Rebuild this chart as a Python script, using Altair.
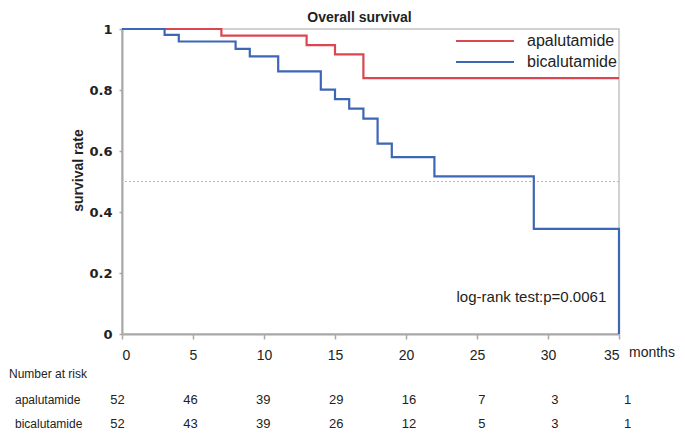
import altair as alt
import pandas as pd

# ---- data ----
series = ["apalutamide", "bicalutamide"]
colors = ["#dc4650", "#3d66b5"]

months_apa = [0, 7, 13, 15, 17, 35]
surv_apa = [1.0, 0.978, 0.947, 0.917, 0.839, 0.839]

months_bica = [0, 3, 4, 8, 9, 11, 14, 15, 16, 17, 18, 19, 22, 29, 35]
surv_bica = [1.0, 0.981, 0.959, 0.935, 0.910, 0.861, 0.801, 0.770, 0.739,
             0.706, 0.624, 0.580, 0.517, 0.345, 0.0]

x_ticks = [0, 5, 10, 15, 20, 25, 30, 35]
y_ticks = [0, 0.2, 0.4, 0.6, 0.8, 1.0]

risk_times = [0, 5, 10, 15, 20, 25, 30, 35]
risk_apa = [52, 46, 39, 29, 16, 7, 3, 1]
risk_bica = [52, 43, 39, 26, 12, 5, 3, 1]

logrank_label = "log-rank test:p=0.0061"

# ---- tables ----
curve_df = pd.concat([
    pd.DataFrame({"series": series[0], "month": months_apa, "surv": surv_apa}),
    pd.DataFrame({"series": series[1], "month": months_bica, "surv": surv_bica}),
], ignore_index=True)

risk_df_apa = pd.DataFrame({"time": risk_times, "n": risk_apa})
risk_df_bica = pd.DataFrame({"time": risk_times, "n": risk_bica})

FONT = "Liberation Sans"
TXT = "#222222"
AXISC = "#a8a8a8"

xscale = alt.Scale(domain=[0, 35], nice=False, zero=False)
yscale = alt.Scale(domain=[0, 1], nice=False, zero=False)

lines = alt.Chart(curve_df).mark_line(interpolate="step-after", strokeWidth=2.2).encode(
    x=alt.X("month:Q", scale=xscale,
            axis=alt.Axis(values=x_ticks, title=None, grid=False, domainColor=AXISC,
                          domainWidth=2, tickColor=AXISC, tickSize=5, tickWidth=1.5,
                          labelPadding=9, labelFont=FONT, labelFontSize=14,
                          labelColor=TXT)),
    y=alt.Y("surv:Q", scale=yscale,
            axis=alt.Axis(values=y_ticks, format="~g", grid=False, domainColor=AXISC,
                          domainWidth=2, tickColor=AXISC, tickSize=3, tickWidth=1.5,
                          labelPadding=7, labelFont="DejaVu Sans", labelFontWeight="bold",
                          labelFontSize=13, labelColor=TXT,
                          title="survival rate", titleFont=FONT, titleFontSize=14,
                          titleFontWeight="bold", titleColor=TXT, titleX=-44, titleY=141,
                          titleAngle=270, titleAlign="center", titleBaseline="middle")),
    color=alt.Color("series:N", scale=alt.Scale(domain=series, range=colors), legend=None),
)

median = alt.Chart(pd.DataFrame({"y": [0.5]})).mark_rule(
    color="#b8b8b8", strokeDash=[2, 2], strokeWidth=1).encode(y=alt.Y("y:Q", scale=yscale))

logrank = alt.Chart(pd.DataFrame({"t": [logrank_label], "x": [34.1], "y": [0.122]})).mark_text(
    align="right", baseline="middle", font=FONT, fontSize=15, color=TXT).encode(
    x=alt.X("x:Q", scale=xscale), y=alt.Y("y:Q", scale=yscale), text="t:N")

months_lbl = alt.Chart(pd.DataFrame({"t": ["months"], "x": [35], "y": [0]})).mark_text(
    align="left", baseline="middle", font=FONT, fontSize=14, color=TXT, dx=10, dy=19).encode(
    x=alt.X("x:Q", scale=xscale), y=alt.Y("y:Q", scale=yscale), text="t:N")

# manual legend
leg_layers = []
for i, (s, c) in enumerate(zip(series, colors)):
    ly = 12 + 21 * i
    leg_layers.append(alt.Chart(pd.DataFrame({"s": [s]})).mark_rule(
        color=c, strokeWidth=2).encode(x=alt.value(334), x2=alt.value(392), y=alt.value(ly)))
    leg_layers.append(alt.Chart(pd.DataFrame({"s": [s]})).mark_text(
        align="left", baseline="middle", font=FONT, fontSize=16, color=TXT).encode(
        x=alt.value(405), y=alt.value(ly), text="s:N"))

# number at risk labels
nar = alt.Chart(pd.DataFrame({"t": ["Number at risk"]})).mark_text(
    align="left", baseline="middle", font=FONT, fontSize=12, color=TXT).encode(
    x=alt.value(-113), y=alt.value(345), text="t:N")
row_y = [371, 395]
row_lbls = []
for s, ry in zip(series, row_y):
    row_lbls.append(alt.Chart(pd.DataFrame({"t": [s]})).mark_text(
        align="left", baseline="middle", font=FONT, fontSize=12, color=TXT).encode(
        x=alt.value(-107), y=alt.value(ry), text="t:N"))

main = alt.layer(median, lines, logrank, months_lbl, *leg_layers, nar, *row_lbls)

tscale = alt.Scale(domain=[0, 35], range=[-4.4, 505.7])
table_layers = []
for df, ry in zip([risk_df_apa, risk_df_bica], row_y):
    table_layers.append(alt.Chart(df).mark_text(
        align="center", baseline="middle", font=FONT, fontSize=13, color=TXT).encode(
        x=alt.X("time:Q", scale=tscale, axis=None), y=alt.value(ry), text="n:Q"))
table = alt.layer(*table_layers)

chart = alt.layer(main, table).resolve_scale(x="independent").properties(
    width=497, height=305,
    title=alt.TitleParams("Overall survival", font=FONT, fontSize=14, fontWeight="bold",
                          color=TXT, dx=-11, dy=8, offset=6, frame="group"),
    padding={"left": 114, "top": 21, "right": 58, "bottom": 96},
    autosize=alt.AutoSizeParams(type="none"),
).configure_view(stroke="#c4c4c4", strokeWidth=1.5)

chart.save("out.html", embed_options={"renderer": "svg", "actions": False})
